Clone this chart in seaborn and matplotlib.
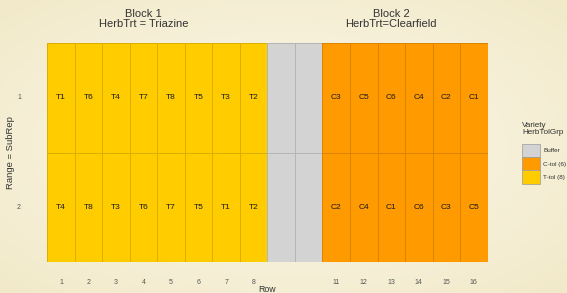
import numpy as np
import pandas as pd
import matplotlib
matplotlib.use("Agg")
import matplotlib.pyplot as plt
from matplotlib.colors import ListedColormap
from matplotlib.patches import Patch
from matplotlib.transforms import blended_transform_factory
import seaborn as sns

# field layout: 16 rows x 2 ranges, rows 9-10 are buffer
rows = list(range(1, 17))
ranges = [1, 2]
range1_plots = ["T1", "T6", "T4", "T7", "T8", "T5", "T3", "T2", "", "",
                "C3", "C5", "C6", "C4", "C2", "C1"]
range2_plots = ["T4", "T8", "T3", "T6", "T7", "T5", "T1", "T2", "", "",
                "C2", "C4", "C1", "C6", "C3", "C5"]
row_ticks = ["1", "2", "3", "4", "5", "6", "7", "8", "", "",
             "11", "12", "13", "14", "15", "16"]
groups = ["Buffer", "C-tol (6)", "T-tol (8)"]
group_colors = ["#D3D3D3", "#FF9A00", "#FFCC00"]
block_titles = ["Block 1\nHerbTrt = Triazine", "Block 2\nHerbTrt=Clearfield"]
block_title_x = [4, 13]


def group_of(name):
    if name.startswith("T"):
        return 2
    if name.startswith("C"):
        return 1
    return 0


df = pd.DataFrame({
    "Row": rows * 2,
    "Range": [1] * 16 + [2] * 16,
    "Plot": range1_plots + range2_plots,
})
df["Grp"] = df["Plot"].map(group_of)
grp_mat = df.pivot(index="Range", columns="Row", values="Grp")
lab_mat = df.pivot(index="Range", columns="Row", values="Plot")

plt.rcParams["font.family"] = ["Liberation Sans", "DejaVu Sans"]
fig = plt.figure(figsize=(5.67, 2.93), dpi=100)

# cream background with a soft vignette
h, w = 293, 567
yy, xx = np.mgrid[0:h, 0:w]
r = np.sqrt(((xx - w / 2) / (w / 2)) ** 2 + ((yy - h / 2) / (h / 2)) ** 2) / np.sqrt(2)
inner = np.array([250, 245, 228]) / 255
outer = np.array([241, 233, 200]) / 255
bg = inner[None, None, :] * (1 - r[..., None] ** 1.5) + outer[None, None, :] * r[..., None] ** 1.5
fig.figimage(bg, 0, 0, zorder=-1)

ax = fig.add_axes([47.3 / 567, 1 - 262.3 / 293, 440.3 / 567, 219.6 / 293])
ax.patch.set_alpha(0)

sns.heatmap(grp_mat, ax=ax, cmap=ListedColormap(group_colors), vmin=-0.5, vmax=2.5,
            annot=lab_mat.values, fmt="", cbar=False,
            linewidths=0.6, linecolor=(0, 0, 0, 0.14),
            annot_kws={"fontsize": 6, "color": "#1a1a1a"},
            xticklabels=row_ticks, yticklabels=ranges)

ax.tick_params(axis="both", length=0, labelsize=5, labelcolor="#555555")
ax.tick_params(axis="x", pad=12)
ax.tick_params(axis="y", pad=19)
plt.setp(ax.get_yticklabels(), rotation=0)
plt.setp(ax.get_xticklabels(), rotation=0)

ax.set_xlabel("Row", fontsize=6.3, color="#333333")
ax.set_ylabel("Range = SubRep", fontsize=6.8, color="#333333")
ax.xaxis.set_label_coords(0.5, (262.3 - 290) / 219.6)
ax.xaxis.label.set_verticalalignment("center")
ax.yaxis.set_label_coords((11 - 47.3) / 440.3, 0.5)
ax.yaxis.label.set_verticalalignment("center")

title_tr = blended_transform_factory(ax.transData, fig.transFigure)
for title, bx in zip(block_titles, block_title_x):
    ax.text(bx - 0.5, 1 - 19 / 293, title, ha="center", va="center",
            fontsize=8, color="#333333", linespacing=1.1, transform=title_tr)

# legend: title drawn as its own text so the gap above the keys matches
fig.text(522 / 567, 1 - 122 / 293, "Variety\nHerbTolGrp", ha="left", va="top",
         fontsize=5.9, color="#333333", linespacing=1.1)
handles = [Patch(facecolor=c, edgecolor="#9a9a9a", linewidth=0.5, label=g)
           for g, c in zip(groups, group_colors)]
leg = fig.legend(handles=handles, loc="upper left",
                 bbox_to_anchor=(522 / 567, 1 - 144 / 293), frameon=False,
                 fontsize=4.6, borderpad=0, borderaxespad=0,
                 handlelength=2.8, handleheight=2.8, labelspacing=0, handletextpad=0.5)
for t in leg.get_texts():
    t.set_color("#333333")

fig.savefig("out.png", dpi=100)
